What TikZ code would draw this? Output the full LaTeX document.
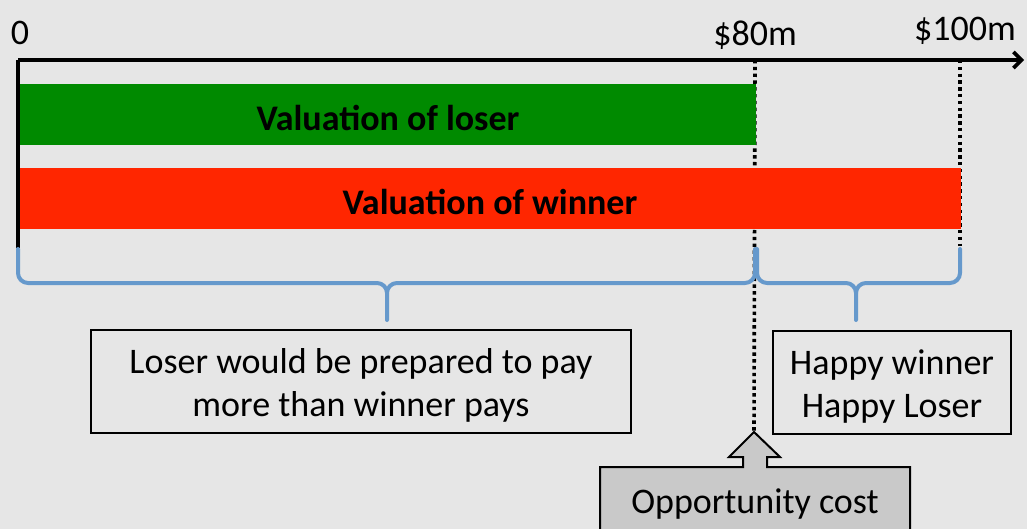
\documentclass[tikz,border=0pt]{standalone}
\usepackage{fontspec}
\setmainfont{Carlito}
\usetikzlibrary{arrows.meta}
\definecolor{bg}{HTML}{E6E6E6}
\definecolor{grn}{HTML}{008A00}
\definecolor{rd}{HTML}{FF2600}
\definecolor{brc}{HTML}{6699CC}
\definecolor{callout}{HTML}{C9C9C9}
\tikzset{
  txt/.style={font=\fontsize{36}{43}\selectfont, text=black, inner sep=0pt, align=center},
  bartxt/.style={font=\fontsize{36}{43}\selectfont\bfseries, text=black, inner sep=0pt},
  bar/.style={draw=none, inner sep=0pt, minimum height=61pt, anchor=north west},
  textbox/.style={draw=black, line width=2pt, fill=bg, inner sep=0pt, anchor=north west},
  dotline/.style={line width=3.6pt, dash pattern=on 3.4pt off 3.4pt, black},
  bracestyle/.style={draw=brc, line width=4pt, line cap=round, line join=round},
}
\begin{document}
\begin{tikzpicture}[x=1pt,y=-1pt]
\useasboundingbox (0,0) rectangle (1027,529);
\clip (0,0) rectangle (1027,529);
\fill[bg] (0,0) rectangle (1027,529);

% coordinates
\coordinate (origin) at (18,60);
\coordinate (axisend) at (1024,60);
\coordinate (zerobot) at (18,248);
\coordinate (m80top) at (755,60);
\coordinate (m100top) at (960,60);
\coordinate (m100bot) at (960,246);

% labels
\node[txt, anchor=base] (lab0) at (20,45) {0};
\node[txt, anchor=base] (lab80) at (755,46) {\$80m};
\node[txt, anchor=base] (lab100) at (965,41) {\$100m};

% callout (opportunity cost)
\draw[line width=2pt, fill=callout, line join=miter]
  (600,540) -- (600,467) -- (743,467) -- (743,457) -- (729,457) -- (754,432)
  -- (780,457) -- (767,457) -- (767,467) -- (910,467) -- (910,540) -- cycle;
\coordinate (arrowtip) at (754,432);
\node[txt, anchor=base] (opp) at (755,513) {Opportunity cost};

% dotted lines (behind bars)
\draw[dotline] (m80top) -- (arrowtip);
\draw[dotline] (m100top) -- (m100bot);

% bars
\node[bar, fill=grn, minimum width=738pt] (loser) at (18,84) {};
\node[bartxt] at (388,118) {Valuation of loser};
\node[bar, fill=rd, minimum width=943pt] (winner) at (18,168) {};
\node[bartxt] at (490,202) {Valuation of winner};

% axes
\draw[line width=3.6pt, -{Straight Barb[length=8pt,width=16pt,line width=3.6pt]}] (origin) -- (axisend);
\draw[line width=3.6pt] (origin) -- (zerobot);

% braces
\draw[bracestyle] (18,249) -- (18,273) to[out=-90,in=180] (28,283) -- (377,283)
  to[out=0,in=90] (387,293) -- (387,320);
\draw[bracestyle] (387,293) to[out=90,in=180] (397,283) -- (745,283)
  to[out=0,in=-90] (755,273) -- (755,249);
\draw[bracestyle] (757,249) -- (757,273) to[out=-90,in=180] (767,283) -- (846,283)
  to[out=0,in=90] (856,293) -- (856,320);
\draw[bracestyle] (856,293) to[out=90,in=180] (866,283) -- (950,283)
  to[out=0,in=-90] (960,273) -- (960,249);

% text boxes
\node[textbox, minimum width=540pt, minimum height=103pt] (box1) at (90,329) {};
\node[txt] (t1) at ([yshift=-4pt]box1.center) {Loser would be prepared to pay\\more than winner pays};
\node[textbox, minimum width=238pt, minimum height=103pt] (box2) at (772,330) {};
\node[txt] (t2) at ([yshift=-4pt]box2.center) {Happy winner\\Happy Loser};
\end{tikzpicture}
\end{document}
